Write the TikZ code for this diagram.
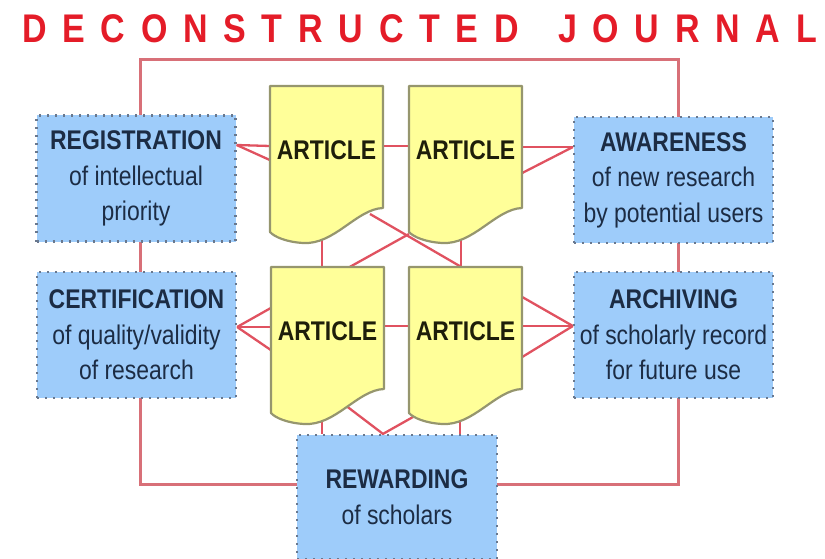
\documentclass[tikz,border=0pt]{standalone}
\usepackage{fontspec}
\setmainfont{Liberation Sans}[FakeStretch=0.85]
\usetikzlibrary{calc}
\pgfdeclarelayer{background}
\pgfsetlayers{background,main}
\definecolor{boxfill}{RGB}{158,204,250}
\definecolor{boxline}{RGB}{105,120,142}
\definecolor{boxtext}{RGB}{28,44,68}
\definecolor{artfill}{RGB}{255,255,153}
\definecolor{artline}{RGB}{150,150,110}
\definecolor{arttxt}{RGB}{30,30,10}
\definecolor{link}{RGB}{224,82,96}
\definecolor{frame}{RGB}{216,112,120}
\definecolor{titlered}{RGB}{228,28,40}
\tikzset{
  funcbox/.style={draw=boxline, fill=boxfill, line width=2.2pt, dash pattern=on 2pt off 6pt,
    minimum width=199pt, minimum height=126pt, inner sep=0pt, align=center, text=boxtext,
    font=\fontsize{27}{35.5}\selectfont},
  arttext/.style={minimum width=113pt, minimum height=128pt, inner sep=0pt,
    font=\fontsize{27}{32}\selectfont\bfseries, text=arttxt},
  artshape/.style={fill=artfill, draw=artline, line width=2.2pt, line join=round},
  linkline/.style={draw=link, line width=2.3pt},
  frameline/.style={draw=frame, line width=3pt},
}
\newcommand\docshape[1]{%
  \path[artshape, shift={(#1)}] (-56.5,-64) -- (56.5,-64) -- (56.5,58)
    .. controls (30,59) and (8,95) .. (-23.5,93)
    .. controls (-40,92) and (-52,87) .. (-56.5,82) -- cycle;}
\begin{document}
\begin{tikzpicture}[x=1pt,y=-1pt]
\useasboundingbox (0,0) rectangle (825,559);
\node[inner sep=0pt, text=titlered, font=\fontsize{40}{40}\selectfont\bfseries] (title) at (419.5,28.5)
  {\hbox to 795pt{D\hfill E\hfill C\hfill O\hfill N\hfill S\hfill T\hfill R\hfill U\hfill C\hfill T\hfill E\hfill D\hskip 0pt plus 2.5fill J\hfill O\hfill U\hfill R\hfill N\hfill A\hfill L}};
% articles
\coordinate (c1) at (326.5,150);
\coordinate (c2) at (465.5,150);
\coordinate (c3) at (327.5,331);
\coordinate (c4) at (465.5,331);
\docshape{c1}\docshape{c2}\docshape{c3}\docshape{c4}
\node[arttext] (a1) at (c1) {ARTICLE};
\node[arttext] (a2) at (c2) {ARTICLE};
\node[arttext] (a3) at (c3) {ARTICLE};
\node[arttext] (a4) at (c4) {ARTICLE};
% function boxes
\node[funcbox] (reg) at (136,178.5) {\textbf{REGISTRATION}\\of intellectual\\priority};
\node[funcbox] (awa) at (673.5,180) {\textbf{AWARENESS}\\of new research\\by potential users};
\node[funcbox] (cert) at (136.5,335) {\textbf{CERTIFICATION}\\of quality/validity\\of research};
\node[funcbox] (arch) at (673.5,335) {\textbf{ARCHIVING}\\of scholarly record\\for future use};
\node[funcbox, minimum width=200pt, minimum height=124pt] (rew) at (397,497) {\textbf{REWARDING}\\of scholars};
\coordinate (ftl) at (140,60);
\coordinate (fbr) at (678,484);
\begin{pgfonlayer}{background}
\draw[frameline] (ftl) rectangle (fbr);
\draw[linkline] ($(reg.east)+(0,-33.5)$) -- ($(a1.west)+(0,-4)$);
\draw[linkline] ($(reg.east)+(0,-33.5)$) -- ($(a1.west)+(0,10)$);
\draw[linkline] ($(a1.east)+(0,-4)$) -- ($(a2.west)+(0,-4)$);
\draw[linkline] ($(awa.west)+(0,-33)$) -- ($(a2.east)+(0,-3)$);
\draw[linkline] ($(awa.west)+(0,-33)$) -- ($(a2.east)+(0,23)$);
\draw[linkline] ($(a1.center)+(-4.5,70)$) -- ($(a3.north)+(-5.5,0)$);
\draw[linkline] ($(a2.center)+(-4.5,70)$) -- ($(a4.north)+(-4.5,0)$);
\draw[linkline] ($(a1.center)+(43.5,64)$) -- ($(a4.north)+(-4.5,0)$);
\draw[linkline] ($(a2.center)+(-56.5,84)$) -- ($(a3.north)+(22.5,0)$);
\foreach \dy in {-23,-4,19} \draw[linkline] ($(cert.east)+(0,-8)$) -- ($(a3.west)+(0,\dy)$);
\draw[linkline] ($(a3.east)+(0,-5)$) -- ($(a4.west)+(0,-5)$);
\foreach \dy in {-34,-5,26} \draw[linkline] ($(arch.west)+(0,-9)$) -- ($(a4.east)+(0,\dy)$);
\draw[linkline] ($(a3.center)+(-5.5,80)$) -- ($(rew.north)+(-75,0)$);
\draw[linkline] ($(a4.center)+(-5.5,80)$) -- ($(rew.north)+(63,0)$);
\draw[linkline] ($(a3.center)+(17.5,74)$) -- ($(rew.north)+(-14,0)$) -- ($(a4.center)+(-52.5,86)$);
\end{pgfonlayer}
\end{tikzpicture}
\end{document}
